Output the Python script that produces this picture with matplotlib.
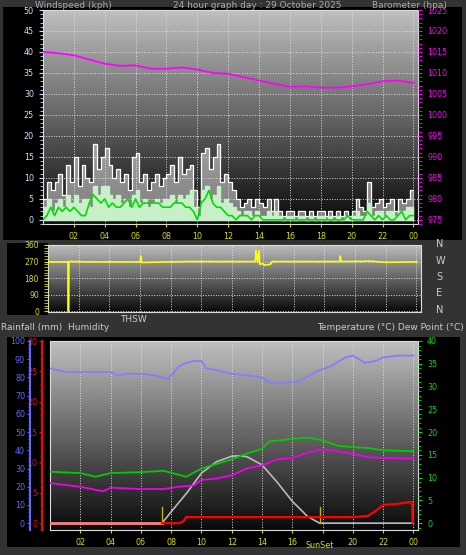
import numpy as np
import matplotlib
matplotlib.use("Agg")
import matplotlib.pyplot as plt
from matplotlib.ticker import MultipleLocator

# ---------------- data ----------------
hour_labels = ["02", "04", "06", "08", "10", "12", "14", "16", "18", "20", "22", "00"]
hour_ticks = [2, 4, 6, 8, 10, 12, 14, 16, 18, 20, 22, 24]

wind_gust = [5,9,7,9, 11,6,13,9, 15,8,13,10, 9,18,12,15, 17,13,10,12, 9,11,7,15,
             16,9,11,7, 9,11,8,10, 11,13,9,15, 11,12,13,7, 3,16,17,12, 15,18,9,11,
             9,7,5,3, 4,5,3,5, 4,3,5,2, 5,2,1,2, 2,1,2,2, 1,2,1,2, 2,1,2,1, 2,1,2,1,
             2,5,3,2, 9,3,4,5, 3,4,5,2, 5,4,5,7, 7]
wind_speed = [3,5,2,4, 5,3,6,4, 6,4,5,5, 3,8,6,8, 8,6,5,6, 4,5,3,6, 7,4,5,3, 4,5,4,5,
              5,6,4,6, 5,6,7,3, 1,7,8,5, 6,8,4,5, 4,3,2,1, 2,2,1,2, 1,1,2,1, 2,1,0,1,
              1,0,1,1, 0,1,0,1, 1,0,1,0, 1,0,1,0, 1,2,1,1, 4,1,2,2, 1,2,2,1, 2,2,3,3, 3]
wind_avg = [0,1,3,1, 3,2,3,2, 3,2,1,1, 4,6,5,4, 5,3,4,3, 3,4,5,3, 5,3,4,4, 4,4,4,3,
            3,3,4,4, 4,3,3,2, 0,4,5,7, 4,3,3,2, 1,1,0,1, 1,1,0,1, 1,0,0,0, 0,0,0,0,
            0,0,0,0, 0,0,0,0, 0,0,0,0, 0,0,0,1, 0,0,0,0, 2,1,0,1, 0,1,0,0, 1,2,0,1, 1]

baro_hours = list(range(25))
baro = [1015,1014.7,1014.2,1013.2,1012.2,1011.7,1011.8,1011,1011,1011.3,1010.8,1010,
        1009.8,1009,1008.2,1007.4,1006.7,1006.8,1006.5,1006.5,1006.8,1007.3,1008,1008.2,1007.6]

dir_hours = [0, 1.3, 1.31, 1.35, 1.36, 3, 6.0, 6.05, 6.1, 9, 13.5, 13.55, 13.65, 13.75, 13.8, 14.0, 14.1, 14.5, 14.6, 19.0, 19.05, 19.1, 21, 22, 24]
wind_dir = [268, 268, 0, 0, 270, 268, 268, 300, 265, 270, 270, 330, 265, 330, 255, 258, 250, 255, 270, 270, 300, 270, 272, 266, 268]

hum_hours = [0, 0.5, 1, 2, 3, 4, 4.5, 5, 6, 7, 7.8, 8.5, 9, 9.5, 10, 10.3, 11, 12, 13, 14, 14.5, 15.5, 16.5, 17.5, 18.5, 19.5, 20, 20.8, 21.5, 22, 23, 24]
humidity = [85, 84, 83, 83, 83, 83, 81, 82, 82, 81, 79, 86, 88, 89, 89, 85, 84, 82, 81, 80, 77, 77, 78, 83, 86, 91, 92, 88, 89, 91, 92, 92]

temp_hours = [0, 2, 3, 4, 6, 7.5, 9, 10, 11, 12, 13, 14, 14.5, 15.5, 16, 17, 18, 19, 20, 21, 22, 24]
temperature = [11.3, 11, 10.2, 11, 11.2, 11.5, 10.2, 12, 13, 14, 15.3, 16.3, 18, 18.3, 18.5, 18.8, 18.2, 17, 16.7, 16.5, 16, 15.8]
dew_hours = [0, 2, 3.5, 4, 6, 7.5, 8.5, 9.5, 10, 11, 12, 13, 14, 15, 16, 17, 18, 19, 20, 21, 22, 24]
dewpoint = [8.8, 8, 7, 7.8, 7.5, 7.5, 8, 8.3, 9.5, 9.8, 10.5, 12, 12.7, 14, 14.3, 15.5, 16.2, 15.8, 15.2, 14.5, 14.3, 14.2]

rain_hours = [0, 7.4, 8.5, 8.8, 9.0, 20, 21, 21.5, 22, 23, 23.8, 23.9, 23.95]
rainfall = [0, 0, 0, 0.3, 1, 1, 1.2, 2, 3, 3.2, 3.5, 3.5, 0]

solar_hours = [7.4, 8, 9, 10, 11, 12, 12.5, 13, 14, 15, 16, 17, 17.8, 24]
solar = [0, 2.5, 6.5, 11, 13.5, 14.7, 14.8, 14.6, 12.8, 9, 4.8, 1.5, 0, 0]

sunrise, sunset = 7.4, 17.8

# ---------------- figure ----------------
W, H = 466, 555
fig = plt.figure(figsize=(W/100, H/100), dpi=100)
fig.patch.set_facecolor("#333333")

def px(l, t, r, b):
    return [l/W, 1 - b/H, (r-l)/W, (b-t)/H]

for (l, t, r, b) in [(3, 7, 462, 240), (7, 243, 48, 315), (7, 337, 460, 547)]:
    bg = fig.add_axes(px(l, t, r, b)); bg.axis("off")
    bg.add_patch(plt.Rectangle((0, 0), 1, 1, color="black", transform=bg.transAxes))

grad = np.linspace(0, 1, 256).reshape(-1, 1)

def prep(ax, ymin, ymax):
    ax.imshow(grad, extent=[0, 24.3, ymin, ymax], aspect="auto", cmap="gray",
              vmin=-0.05, vmax=1.35, origin="lower", zorder=0)
    ax.set_xlim(0, 24.3); ax.set_ylim(ymin, ymax)
    ax.grid(True, color="#dddddd", linestyle=":", linewidth=0.7, zorder=1)
    for s in ax.spines.values():
        s.set_color("#dddddd")
    ax.set_xticks(hour_ticks)
    ax.set_axisbelow(False)

def tx(vals):
    return np.linspace(0, 24, len(vals))

fs = 5.8
# ---- panel 1 ----
ax1 = fig.add_axes(px(43, 10, 418, 224))
prep(ax1, -1, 50)
ax1.fill_between(tx(wind_gust), 0, wind_gust, step="post", color="#f0f0f0", alpha=0.5, zorder=2)
ax1.step(tx(wind_gust), wind_gust, where="post", color="white", lw=0.8, zorder=3)
ax1.fill_between(tx(wind_speed), 0, wind_speed, step="post", color="#c8f0c8", zorder=4)
ax1.plot(tx(wind_avg), wind_avg, color="#00dd00", lw=1.2, zorder=5)
ax1.set_yticks(range(0, 51, 5))
ax1.yaxis.set_minor_locator(MultipleLocator(1))
ax1.set_xticklabels(hour_labels)
ax1.tick_params(axis="x", colors="#dddd00", labelsize=fs, length=2)
ax1.tick_params(axis="y", which="both", colors="#cce0ff", labelsize=fs, length=3)
ax1.tick_params(axis="y", which="minor", length=2)
ax1r = ax1.twinx()
ax1r.set_ylim(974, 1025); ax1r.set_xlim(0, 24.3)
ax1r.plot(baro_hours, baro, color="#ff00ff", lw=1.3)
ax1r.set_yticks(range(975, 1026, 5))
ax1r.yaxis.set_minor_locator(MultipleLocator(1))
ax1r.tick_params(axis="y", which="both", colors="#ff00ff", labelsize=fs, length=3)
for s in ax1r.spines.values():
    s.set_visible(False)

fig.text(35/W, 1-5/H, "Windspeed (kph)", color="#aaaaaa", fontsize=6.5, va="center")
fig.text(173/W, 1-5/H, "24 hour graph day : 29 October 2025", color="#aaaaaa", fontsize=6.5, va="center")
fig.text(372/W, 1-5/H, "Barometer (hpa)", color="#aaaaaa", fontsize=6.5, va="center")

# ---- panel 2 ----
ax2 = fig.add_axes(px(48, 245, 421, 312))
prep(ax2, -5, 360)
ax2.plot(dir_hours, wind_dir, color="#ffff00", lw=1.2, zorder=4)
ax2.set_yticks([0, 90, 180, 270, 360])
ax2.yaxis.set_minor_locator(MultipleLocator(15))
ax2.set_xticklabels([])
ax2.tick_params(axis="x", length=0)
ax2.tick_params(axis="y", which="both", colors="#dddd00", labelsize=5.5, length=3)
for i, c in enumerate(["N", "W", "S", "E", "N"]):
    fig.text(436/W, 1-(244+i*16.5)/H, c, color="#cccccc", fontsize=7, va="center")
fig.text(1/W, 1-327/H, "Rainfall (mm)  Humidity", color="#cccccc", fontsize=6.5, va="center")
fig.text(120/W, 1-319/H, "THSW", color="#cccccc", fontsize=6.5, va="center")
fig.text(464/W, 1-327/H, "Temperature (°C) Dew Point (°C)", color="#cccccc", fontsize=6.5,
         va="center", ha="right")

# ---- panel 3 ----
ax3 = fig.add_axes(px(50, 341, 418, 530))
prep(ax3, -1.5, 40)
ax3.plot(temp_hours, temperature, color="#00cc00", lw=1.3, zorder=4)
ax3.plot(dew_hours, dewpoint, color="#ee00ee", lw=1.3, zorder=4)
ax3.plot(solar_hours, solar, color="#bbbbbb", lw=1.2, zorder=3)
ax3.set_yticks([])
ax3.set_xticklabels(hour_labels[:8] + [""] + hour_labels[9:])
ax3.tick_params(axis="x", colors="#dddd00", labelsize=fs, length=2)
ax3.text(17.8, -5.0, "SunSet", color="#dddd00", fontsize=fs, ha="center", va="center")
ax3t = ax3.twinx()
ax3t.set_ylim(-1.5, 40); ax3t.set_yticks(range(0, 41, 5))
ax3t.yaxis.set_minor_locator(MultipleLocator(1))
ax3t.tick_params(axis="y", which="both", colors="#00dd00", labelsize=fs, length=3)
ax3t.tick_params(axis="y", which="minor", length=2)
for s in ax3t.spines.values():
    s.set_visible(False)

axr = ax3.twinx()
axr.set_ylim(-1.5*30/40, 30)
axr.plot(rain_hours[:2], rainfall[:2], color="#ff8080", lw=2, zorder=4)
axr.plot(rain_hours[1:], rainfall[1:], color="#ff0000", lw=1.6, zorder=4)
for hx in (sunrise, sunset):
    axr.plot([hx, hx], [0, 2.7], color="#c8b400", lw=1)
axr.yaxis.set_ticks_position("left"); axr.yaxis.set_label_position("left")
axr.spines["left"].set_position(("outward", 5.5))
axr.spines["left"].set_color("#ff0000"); axr.spines["left"].set_linewidth(1.5)
for k in ("right", "top", "bottom"):
    axr.spines[k].set_visible(False)
axr.set_yticks(range(0, 31, 5))
axr.yaxis.set_minor_locator(MultipleLocator(1))
axr.tick_params(axis="y", which="both", colors="#ff0000", labelsize=fs, length=2.5, pad=1)
axr.tick_params(axis="y", which="minor", length=1.5)

axh = ax3.twinx()
axh.set_ylim(-1.5*100/40, 100)
axh.plot(hum_hours, humidity, color="#8080ff", lw=1.3)
axh.yaxis.set_ticks_position("left"); axh.yaxis.set_label_position("left")
axh.spines["left"].set_position(("outward", 14.5))
axh.spines["left"].set_color("#6666ff"); axh.spines["left"].set_linewidth(1.5)
for k in ("right", "top", "bottom"):
    axh.spines[k].set_visible(False)
axh.set_yticks(range(0, 101, 10))
axh.yaxis.set_minor_locator(MultipleLocator(2))
axh.tick_params(axis="y", which="both", colors="#6666ff", labelsize=fs, length=2.5, pad=1)
axh.tick_params(axis="y", which="minor", length=1.5)

fig.savefig("out.png", dpi=100, facecolor=fig.get_facecolor())
